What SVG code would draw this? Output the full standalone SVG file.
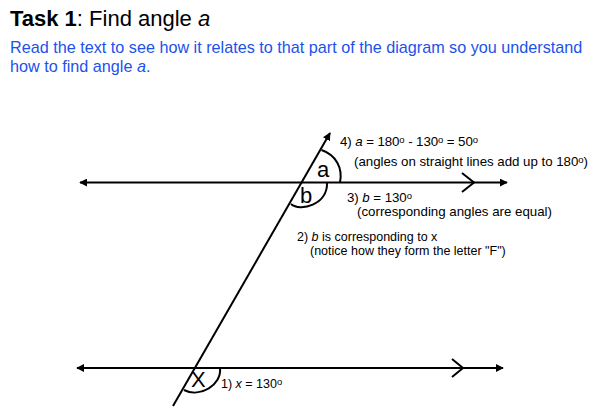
<svg xmlns="http://www.w3.org/2000/svg" width="589" height="407" viewBox="0 0 589 407">
<defs>
<marker id="ah" viewBox="0 0 10 10" refX="9" refY="5" markerWidth="4" markerHeight="4" orient="auto-start-reverse" markerUnits="strokeWidth">
<path d="M0,0 L10,5 L0,10 z" fill="#000"/>
</marker>
<style>
.ln{stroke:#000;stroke-width:2;fill:none}
.t{font-family:"Liberation Sans",Arial,sans-serif;font-size:12.5px;fill:#000}
.t2{font-size:13.3px}
.lbl{font-family:"Liberation Sans",Arial,sans-serif;font-size:22px;fill:#000}
.dg{font-size:9.5px}
</style>
</defs>
<rect width="589" height="407" fill="#fff"/>
<g id="title">
<text x="10" y="26" font-family="Liberation Sans, Arial, sans-serif" font-size="22" fill="#000"><tspan font-weight="bold">Task 1</tspan>: Find angle <tspan font-style="italic">a</tspan></text>
</g>
<g id="instructions" font-family="Liberation Sans, Arial, sans-serif" font-size="16.2" fill="#1c52ea">
<text x="10" y="53">Read the text to see how it relates to that part of the diagram so you understand</text>
<text x="10" y="72">how to find angle <tspan font-style="italic">a</tspan>.</text>
</g>
<g id="connectors">
<line class="ln" x1="80" y1="182.5" x2="507" y2="182.5" marker-start="url(#ah)" marker-end="url(#ah)"/>
<line class="ln" x1="77" y1="368" x2="503" y2="368" marker-start="url(#ah)" marker-end="url(#ah)"/>
<line class="ln" x1="173" y1="406" x2="330" y2="133" marker-end="url(#ah)"/>
<polyline class="ln" points="462,173 474,182.5 462,192"/>
<polyline class="ln" points="452,359 463,368 452,377"/>
</g>
<g id="angle-a">
<path class="ln" d="M321.5,150 C336,155 343,168 340,182.5"/>
<text class="lbl" x="317" y="177">a</text>
</g>
<g id="angle-b">
<path class="ln" d="M327,182.5 C328,205 300,212 291,204"/>
<text class="lbl" x="300" y="203">b</text>
</g>
<g id="angle-x">
<path class="ln" d="M220,368 C222,385 200,398 184,390"/>
<text class="lbl" x="191" y="387" font-size="19">X</text>
</g>
<g id="notes">
<text class="t t2" x="340" y="146" textLength="138" lengthAdjust="spacing">4) <tspan font-style="italic">a</tspan> = 180<tspan class="dg" dy="-3.5">o</tspan><tspan dy="3.5"> - 130</tspan><tspan class="dg" dy="-3.5">o</tspan><tspan dy="3.5"> = 50</tspan><tspan class="dg" dy="-3.5">o</tspan></text>
<text class="t t2" x="354" y="166" textLength="234" lengthAdjust="spacing">(angles on straight lines add up to 180<tspan class="dg" dy="-3.5">o</tspan><tspan dy="3.5">)</tspan></text>
<text class="t t2" x="347" y="202" textLength="65" lengthAdjust="spacing">3) <tspan font-style="italic">b</tspan> = 130<tspan class="dg" dy="-3.5">o</tspan></text>
<text class="t t2" x="357" y="216" textLength="195" lengthAdjust="spacing">(corresponding angles are equal)</text>
<text class="t" x="297" y="241">2) <tspan font-style="italic">b</tspan> is corresponding to x</text>
<text class="t" x="310" y="255">(notice how they form the letter "F")</text>
<text class="t" x="221" y="388">1) <tspan font-style="italic">x</tspan> = 130<tspan class="dg" dy="-3.5">o</tspan></text>
</g>
</svg>
